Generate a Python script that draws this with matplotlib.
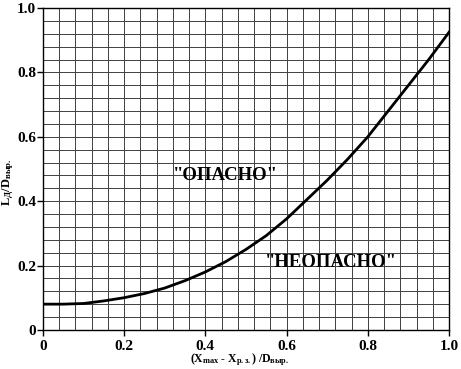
import matplotlib.pyplot as plt
import numpy as np

plt.rcParams['font.family'] = ['Liberation Serif', 'DejaVu Serif']
plt.rcParams['mathtext.fontset'] = 'custom'
plt.rcParams['mathtext.rm'] = 'Liberation Serif:bold'
plt.rcParams['mathtext.bf'] = 'Liberation Serif:bold'
plt.rcParams['mathtext.it'] = 'Liberation Serif:bold'

# кривая L_Д/D_выр. от (Xmax - Xр.з.)/D_выр.
x = [0, 0.05, 0.1, 0.15, 0.2, 0.25, 0.3, 0.35, 0.4, 0.45, 0.5,
     0.55, 0.6, 0.65, 0.7, 0.75, 0.8, 0.85, 0.9, 0.95, 1.0]
y = [0.08, 0.08, 0.082, 0.09, 0.1, 0.113, 0.13, 0.153, 0.18, 0.212, 0.25,
     0.293, 0.345, 0.405, 0.465, 0.53, 0.6, 0.68, 0.76, 0.84, 0.925]

ticks = [0, 0.2, 0.4, 0.6, 0.8, 1.0]
tick_labels = ["0", "0.2", "0.4", "0.6", "0.8", "1.0"]
grid_step = 0.04

fig = plt.figure(figsize=(4.61, 3.69), dpi=100)
ax = fig.add_axes([0.093, 0.106, 0.881, 0.872])

g = np.arange(0, 1.0001, grid_step)
for v in g[1:-1]:
    ax.axvline(v, color='0.25', lw=0.7, zorder=1)
    ax.axhline(v, color='0.25', lw=0.7, zorder=1)

ax.plot(x, y, color='black', lw=2, zorder=3)

ax.text(0.45, 0.48, '"ОПАСНО"', fontsize=13.5, fontweight='bold', ha='center', va='center',
        zorder=4)
ax.text(0.71, 0.21, '"НЕОПАСНО"', fontsize=13.5, fontweight='bold', ha='center', va='center',
        zorder=4)

ax.set_xlim(0, 1)
ax.set_ylim(0, 1)
ax.set_xticks(ticks)
ax.set_xticklabels(tick_labels, fontweight='bold', fontsize=11)
ax.set_yticks(ticks)
ax.set_yticklabels(tick_labels, fontweight='bold', fontsize=11)
ax.tick_params(direction='out', length=4, width=1, color='black')
ax.tick_params(axis='x', pad=3)
ax.tick_params(axis='y', pad=1)
for s in ax.spines.values():
    s.set_color('black')
    s.set_linewidth(1)

ax.set_xlabel(r'(X$_{\rm max}$ - X$_{\rm р.з.}$) /D$_{\rm выр.}$', fontsize=8.5,
              fontweight='bold', va='bottom')
ax.xaxis.set_label_coords(0.485, -0.118)
ax.set_ylabel(r'L$_{\rm Д}$/D$_{\rm выр.}$', fontsize=9, fontweight='bold')
ax.yaxis.set_label_coords(-0.066, 0.46)

fig.savefig('out.png', dpi=100)
